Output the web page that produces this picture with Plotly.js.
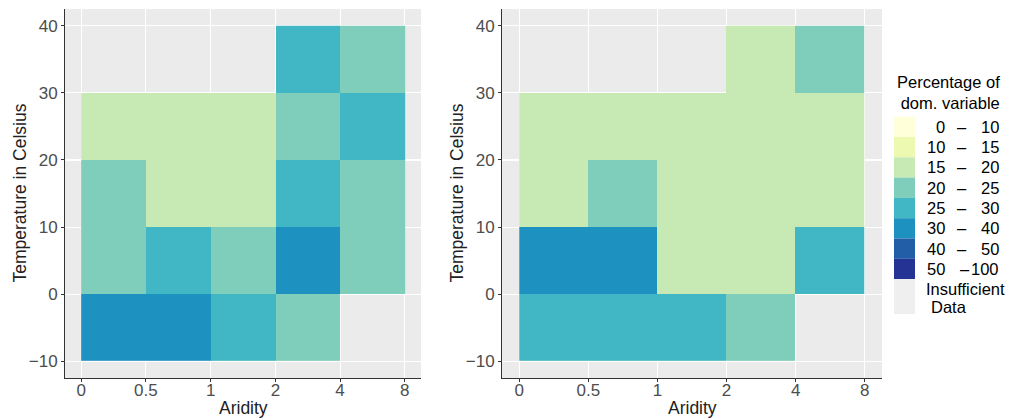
<!DOCTYPE html>
<html>
<head>
<meta charset="utf-8">
<script src="https://cdn.plot.ly/plotly-3.0.1.min.js"></script>
<style>html,body{margin:0;padding:0;background:#fff;}#chart{width:1014px;height:420px;}</style>
</head>
<body>
<div id="chart"></div>
<script>
// ---- data ----
const xTickLabels = ['0', '0.5', '1', '2', '4', '8'];
const yEdges = [-10, 0, 10, 20, 30, 40];
const binLow = ['0', '10', '15', '20', '25', '30', '40', '50'];
const binHigh = ['10', '15', '20', '25', '30', '40', '50', '100'];
const binColors = ['#FFFFD9', '#EDF8B1', '#C7E9B4', '#7FCDBB', '#41B6C4', '#1D91C0', '#225EA8', '#253494'];
const naLabelLines = ['Insufficient', 'Data'];
const naColor = '#EFEFEF';
const legendTitle = ['Percentage of', 'dom. variable'];
const xTitle = 'Aridity';
const yTitle = 'Temperature in Celsius';

// rows from lowest temperature band (-10..0) to highest (30..40); columns by aridity band
const leftPanel = [
  ['30-40', '30-40', '25-30', '20-25', null],
  ['20-25', '25-30', '20-25', '30-40', '20-25'],
  ['20-25', '15-20', '15-20', '25-30', '20-25'],
  ['15-20', '15-20', '15-20', '20-25', '25-30'],
  [null, null, null, '25-30', '20-25']
];
const rightPanel = [
  ['25-30', '25-30', '25-30', '20-25', null],
  ['30-40', '30-40', '15-20', '15-20', '25-30'],
  ['15-20', '20-25', '15-20', '15-20', '15-20'],
  ['15-20', '15-20', '15-20', '15-20', '15-20'],
  [null, null, null, '15-20', '20-25']
];

// ---- build ----
const W = 1014, H = 420;
const px = v => v / W;
const py = v => 1 - v / H;
const binKeys = binLow.map((l, i) => l + '-' + binHigh[i]);
const toIdx = grid => grid.map(r => r.map(c => c === null ? null : binKeys.indexOf(c)));
const n = binColors.length;
const colorscale = [];
binColors.forEach((c, i) => { colorscale.push([i / n, c]); colorscale.push([(i + 1) / n, c]); });
const xEdges = xTickLabels.map((_, i) => i);

function hm(grid, xa, ya) {
  return {
    type: 'heatmap', x: xEdges, y: yEdges, z: toIdx(grid),
    zmin: -0.5, zmax: n - 0.5, colorscale: colorscale, showscale: false,
    xaxis: xa, yaxis: ya, hoverinfo: 'skip', xgap: 0, ygap: 0
  };
}

const FAM = 'Liberation Sans, Arial, sans-serif';
const tickFont = {family: FAM, size: 17, color: '#4D4D4D'};
const titleFont = {family: FAM, size: 17.5, color: '#222'};
function xax(dom) {
  return {
    domain: dom, range: [-0.25, xTickLabels.length - 0.75], tickmode: 'array',
    tickvals: xEdges, ticktext: xTickLabels, showgrid: true, gridcolor: '#FFFFFF', gridwidth: 1.1,
    zeroline: false, showline: true, linecolor: '#333', linewidth: 1, ticks: 'outside', ticklen: 3,
    tickcolor: '#333', tickfont: tickFont, automargin: false, fixedrange: true,
    ticklabelstandoff: -6
  };
}
function yax(anchor) {
  return {
    domain: [py(378), py(9)], range: [-12.5, 42.5], tickmode: 'linear', tick0: 0, dtick: 10,
    showgrid: true, gridcolor: '#FFFFFF', gridwidth: 1.1, zeroline: false, showline: true,
    linecolor: '#333', linewidth: 1, ticks: 'outside', ticklen: 3, tickcolor: '#333',
    tickfont: tickFont, automargin: false, fixedrange: true, anchor: anchor
  };
}

const panels = [
  {x0: 65, x1: 421, yTitleX: 20},
  {x0: 502, x1: 882, yTitleX: 457}
];
const layout = {
  width: W, height: H, margin: {l: 0, r: 0, t: 0, b: 0},
  paper_bgcolor: '#FFFFFF', plot_bgcolor: '#EBEBEB', showlegend: false,
  xaxis: Object.assign(xax([px(panels[0].x0), px(panels[0].x1)]), {anchor: 'y'}),
  yaxis: yax('x'),
  xaxis2: Object.assign(xax([px(panels[1].x0), px(panels[1].x1)]), {anchor: 'y2'}),
  yaxis2: yax('x2'),
  shapes: [], annotations: []
};

// axis titles
panels.forEach(p => {
  layout.annotations.push({xref: 'paper', yref: 'paper', x: px((p.x0 + p.x1) / 2), y: py(407.5),
    xanchor: 'center', yanchor: 'middle', showarrow: false, text: xTitle, font: titleFont});
  layout.annotations.push({xref: 'paper', yref: 'paper', x: px(p.yTitleX), y: py(193.5),
    xanchor: 'center', yanchor: 'middle', showarrow: false, text: yTitle, font: titleFont, textangle: -90});
});

// legend
const legFont = {family: FAM, size: 16.5, color: '#000'};
const swX0 = 894, swX1 = 915, swY0 = 116.7, swH = 20.3;
layout.annotations.push({
  xref: 'paper', yref: 'paper', x: px(1002), y: py(92), xanchor: 'right', yanchor: 'middle',
  align: 'right', showarrow: false, text: legendTitle.join('<br>'), font: legFont
});
binColors.forEach((c, i) => {
  const y0 = swY0 + i * swH, y1 = y0 + swH, yc = (y0 + y1) / 2;
  layout.shapes.push({type: 'rect', xref: 'paper', yref: 'paper', x0: px(swX0), x1: px(swX1),
    y0: py(y1), y1: py(y0), fillcolor: c, line: {width: 0}, layer: 'above'});
  layout.annotations.push({xref: 'paper', yref: 'paper', x: px(947), y: py(yc), xanchor: 'right',
    yanchor: 'middle', showarrow: false, text: binLow[i], font: legFont});
  layout.annotations.push({xref: 'paper', yref: 'paper', x: px(binHigh[i].length > 2 ? 965 : 962),
    y: py(yc), xanchor: 'center', yanchor: 'middle', showarrow: false, text: '\u2013', font: legFont});
  layout.annotations.push({xref: 'paper', yref: 'paper', x: px(1001), y: py(yc), xanchor: 'right',
    yanchor: 'middle', showarrow: false, text: binHigh[i], font: legFont});
});
const naY0 = swY0 + n * swH, naY1 = naY0 + 35;
layout.shapes.push({type: 'rect', xref: 'paper', yref: 'paper', x0: px(swX0), x1: px(swX1),
  y0: py(naY1), y1: py(naY0), fillcolor: naColor, line: {width: 0}, layer: 'above'});
layout.annotations.push({xref: 'paper', yref: 'paper', x: px(924), y: py(288.5), xanchor: 'left',
  yanchor: 'middle', showarrow: false, text: naLabelLines[0], font: legFont});
layout.annotations.push({xref: 'paper', yref: 'paper', x: px(929), y: py(306.5), xanchor: 'left',
  yanchor: 'middle', showarrow: false, text: naLabelLines[1], font: legFont});

Plotly.newPlot('chart', [hm(leftPanel, 'x', 'y'), hm(rightPanel, 'x2', 'y2')], layout,
  {staticPlot: true, displayModeBar: false});
</script>
</body>
</html>
